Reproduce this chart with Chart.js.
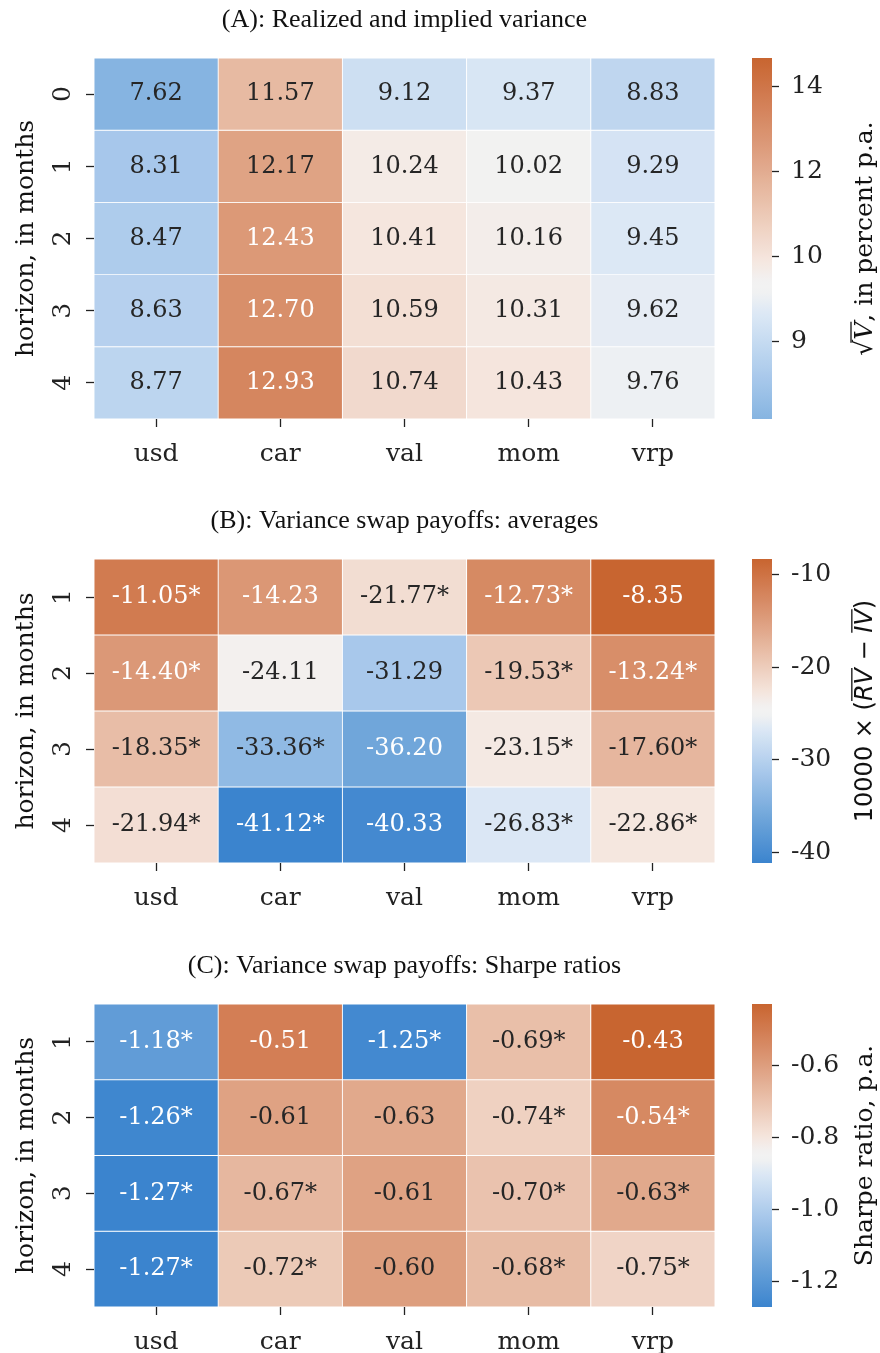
<!DOCTYPE html>
<html>
<head>
<meta charset="utf-8">
<script src="https://cdn.jsdelivr.net/npm/chart.js@4.4.0/dist/chart.umd.min.js"></script>
<style>
  body { margin: 0; background: #fff; }
  #wrap { position: relative; width: 880px; height: 1353px; }
  canvas { position: absolute; }
</style>
</head>
<body>
<div id="wrap"></div>
<script>
// ---- data ----
const columns = ['usd', 'car', 'val', 'mom', 'vrp']

const rowsA = [0, 1, 2, 3, 4]
const valuesA = [
  [7.62, 11.57, 9.12, 9.37, 8.83],
  [8.31, 12.17, 10.24, 10.02, 9.29],
  [8.47, 12.43, 10.41, 10.16, 9.45],
  [8.63, 12.70, 10.59, 10.31, 9.62],
  [8.77, 12.93, 10.74, 10.43, 9.76],
]

const rowsB = [1, 2, 3, 4]
const valuesB = [
  [-11.05, -14.23, -21.77, -12.73, -8.35],
  [-14.40, -24.11, -31.29, -19.53, -13.24],
  [-18.35, -33.36, -36.20, -23.15, -17.60],
  [-21.94, -41.12, -40.33, -26.83, -22.86],
]
const starsB = [
  [1, 0, 1, 1, 0],
  [1, 0, 0, 1, 1],
  [1, 1, 0, 1, 1],
  [1, 1, 0, 1, 1],
]

const rowsC = [1, 2, 3, 4]
const valuesC = [
  [-1.18, -0.51, -1.25, -0.69, -0.43],
  [-1.26, -0.61, -0.63, -0.74, -0.54],
  [-1.27, -0.67, -0.61, -0.70, -0.63],
  [-1.27, -0.72, -0.60, -0.68, -0.75],
]
const starsC = [
  [1, 0, 1, 1, 0],
  [1, 0, 0, 1, 1],
  [1, 1, 0, 1, 1],
  [1, 1, 0, 1, 1],
]

// colour scale limits and colourbar ticks
const colourRangeA = [5.95, 13.9]
const cbRangeA = [8.08, 14.68]
const cbTicksA = [9, 10, 12, 14]
const cbTicksB = [-40, -30, -20, -10]
const cbTicksC = [-1.2, -1.0, -0.8, -0.6]

// ---- colours ----
const palette = [
  [0.00, 59, 132, 206],
  [0.15, 112, 166, 218],
  [0.30, 168, 200, 235],
  [0.44, 220, 232, 245],
  [0.49, 242, 242, 242],
  [0.51, 242, 242, 242],
  [0.56, 245, 230, 222],
  [0.66, 236, 200, 181],
  [0.82, 219, 151, 117],
  [0.92, 209, 122, 79],
  [1.00, 200, 101, 48],
]

function cmap(t) {
  t = Math.max(0, Math.min(1, t))
  for (let k = 1; k < palette.length; k++) {
    const a = palette[k - 1], b = palette[k]
    if (t <= b[0]) {
      const f = (t - a[0]) / (b[0] - a[0] || 1)
      return [1, 2, 3].map(i => Math.round(a[i] + (b[i] - a[i]) * f))
    }
  }
  return palette[palette.length - 1].slice(1)
}
const rgb = c => `rgb(${c[0]},${c[1]},${c[2]})`

function luminance(c) {
  const lin = c.map(x => {
    x = x / 255
    return x <= 0.04045 ? x / 12.92 : Math.pow((x + 0.055) / 1.055, 2.4)
  })
  return 0.2126 * lin[0] + 0.7152 * lin[1] + 0.0722 * lin[2]
}

const flat = arr => arr.reduce((a, r) => a.concat(r), [])
const rangeOf = vals => [Math.min(...flat(vals)), Math.max(...flat(vals))]

Chart.defaults.font.family = "'DejaVu Serif', serif"
Chart.defaults.color = '#222'

const wrap = document.getElementById('wrap')
function addCanvas(left, top, w, h) {
  const cv = document.createElement('canvas')
  cv.width = w
  cv.height = h
  cv.style.left = left + 'px'
  cv.style.top = top + 'px'
  wrap.appendChild(cv)
  return cv
}

// draws a rotated (bottom-to-top) label built from pieces, baseline at x
function drawRotated(ctx, pieces, baseX, midY) {
  ctx.save()
  ctx.translate(baseX, midY)
  ctx.rotate(-Math.PI / 2)
  ctx.textBaseline = 'alphabetic'
  ctx.fillStyle = '#111'
  ctx.strokeStyle = '#111'
  let total = 0
  pieces.forEach(p => { ctx.font = p.font; p.w = ctx.measureText(p.text).width; total += p.w })
  let x = -total / 2
  pieces.forEach(p => {
    ctx.font = p.font
    ctx.fillText(p.text, x, 0)
    if (p.bar) {
      ctx.lineWidth = 1.3
      ctx.beginPath()
      ctx.moveTo(x + (p.barFrom || 0), -p.size * 0.84)
      ctx.lineTo(x + p.w, -p.size * 0.84)
      ctx.stroke()
    }
    x += p.w
  })
  ctx.restore()
}

const labelA = [
  { text: '\u221A', font: "25px 'DejaVu Serif'" },
  { text: 'V', font: "italic 25px 'DejaVu Serif'", bar: true, size: 25, barFrom: -3 },
  { text: ', in percent p.a.', font: "25px 'DejaVu Serif'" },
]
const labelB = [
  { text: '10000 \u00D7 (', font: "24px 'DejaVu Sans'" },
  { text: 'RV', font: "italic 24px 'DejaVu Sans'", bar: true, size: 24 },
  { text: ' \u2212 ', font: "24px 'DejaVu Sans'" },
  { text: 'IV', font: "italic 24px 'DejaVu Sans'", bar: true, size: 24 },
  { text: ')', font: "24px 'DejaVu Sans'" },
]
const labelC = [
  { text: 'Sharpe ratio, p.a.', font: "25px 'DejaVu Serif'" },
]

const panels = [
  {
    title: '(A): Realized and implied variance', top: 0, height: 470, xAxisHeight: 51,
    rows: rowsA, values: valuesA, stars: null, range: colourRangeA,
    cbRange: cbRangeA, cbTicks: cbTicksA, cbDigits: 0, cbShade: [0.21, 1],
    fold: v => (v <= 10 ? v : 10 + (v - 10) / 2), label: labelA,
  },
  {
    title: '(B): Variance swap payoffs: averages', top: 501, height: 412, xAxisHeight: 50,
    rows: rowsB, values: valuesB, stars: starsB, range: rangeOf(valuesB),
    cbRange: rangeOf(valuesB), cbTicks: cbTicksB, cbDigits: 0, cbShade: [0, 1],
    fold: v => v, label: labelB,
  },
  {
    title: '(C): Variance swap payoffs: Sharpe ratios', top: 946, height: 407, xAxisHeight: 46,
    rows: rowsC, values: valuesC, stars: starsC, range: rangeOf(valuesC),
    cbRange: rangeOf(valuesC), cbTicks: cbTicksC, cbDigits: 1, cbShade: [0, 1],
    fold: v => v, label: labelC,
  },
]

const tickGrid = { drawOnChartArea: false, drawTicks: true, tickLength: 8, tickWidth: 1.3, tickColor: '#222' }

function heatmap(p) {
  const cv = addCanvas(0, p.top, 730, p.height)
  const cellColour = v => cmap((v - p.range[0]) / (p.range[1] - p.range[0]))

  const datasets = p.rows.map((r, i) => ({
    data: columns.map((c, j) => ({ x: c, y: [r - 0.5, r + 0.5], v: p.values[i][j] })),
    backgroundColor: ctx => rgb(cellColour(ctx.raw.v)),
    borderColor: '#fff',
    borderWidth: 0.8,
    borderSkipped: false,
    barPercentage: 1,
    categoryPercentage: 1,
    grouped: false,
  }))

  const annotate = {
    id: 'annotate',
    afterDatasetsDraw(chart) {
      const ctx = chart.ctx
      ctx.save()
      ctx.font = "24px 'DejaVu Serif'"
      ctx.textAlign = 'center'
      ctx.textBaseline = 'middle'
      p.rows.forEach((r, i) => {
        chart.getDatasetMeta(i).data.forEach((el, j) => {
          const v = p.values[i][j]
          const c = cellColour(v)
          const pt = el.getCenterPoint()
          ctx.fillStyle = luminance(c) < 0.408 ? '#fff' : '#262626'
          const star = p.stars && p.stars[i][j] ? '*' : ''
          ctx.fillText(v.toFixed(2) + star, pt.x, pt.y)
        })
      })
      ctx.restore()
    },
  }

  new Chart(cv, {
    type: 'bar',
    data: { labels: columns, datasets },
    plugins: [annotate],
    options: {
      responsive: false,
      animation: false,
      devicePixelRatio: 1,
      layout: { padding: { left: 0, right: 15, top: 0, bottom: 0 } },
      plugins: {
        legend: { display: false },
        tooltip: { enabled: false },
        title: {
          display: true,
          text: p.title,
          fullSize: false,
          color: '#111',
          font: { family: "'Liberation Serif', serif", size: 26, weight: 'normal' },
          padding: { top: 5, bottom: 21.8 },
        },
      },
      scales: {
        x: {
          type: 'category',
          offset: true,
          grid: { ...tickGrid, offset: false },
          border: { display: false },
          ticks: { padding: 12, font: { size: 25 }, color: '#222' },
          afterFit: s => { s.height = p.xAxisHeight },
        },
        y: {
          type: 'linear',
          reverse: true,
          min: p.rows[0] - 0.5,
          max: p.rows[p.rows.length - 1] + 0.5,
          afterBuildTicks: s => { s.ticks = p.rows.map(v => ({ value: v })) },
          grid: tickGrid,
          border: { display: false },
          ticks: {
            minRotation: 90, maxRotation: 90, crossAlign: 'center', padding: 15,
            font: { size: 25 }, color: '#222', callback: v => String(v),
          },
          title: {
            display: true, text: 'horizon, in months', color: '#111',
            font: { size: 25 }, padding: { top: 11, bottom: 0 },
          },
          afterFit: s => { s.width = 94 },
        },
      },
    },
  })
}

function colourbar(p) {
  const cv = addCanvas(730, p.top, 150, p.height)

  const shade = ctx => {
    const area = ctx.chart.chartArea
    if (!area) return 'rgba(0,0,0,0)'
    const g = ctx.chart.ctx.createLinearGradient(0, area.bottom, 0, area.top)
    const n = 60
    for (let k = 0; k <= n; k++) {
      const t = p.cbShade[0] + (p.cbShade[1] - p.cbShade[0]) * k / n
      g.addColorStop(k / n, rgb(cmap(t)))
    }
    return g
  }

  const label = {
    id: 'cbLabel',
    afterDraw(chart) {
      const a = chart.chartArea
      drawRotated(chart.ctx, p.label, 142, (a.top + a.bottom) / 2)
    },
  }

  new Chart(cv, {
    type: 'bar',
    data: {
      labels: [''],
      datasets: [{
        data: [[p.fold(p.cbRange[0]), p.fold(p.cbRange[1])]],
        backgroundColor: shade,
        borderWidth: 0,
        barPercentage: 1,
        categoryPercentage: 1,
      }],
    },
    plugins: [label],
    options: {
      responsive: false,
      animation: false,
      devicePixelRatio: 1,
      layout: { padding: { left: 22, right: 0, top: 58, bottom: p.xAxisHeight } },
      plugins: { legend: { display: false }, tooltip: { enabled: false } },
      scales: {
        x: { display: false },
        y: {
          type: 'linear',
          position: 'right',
          min: p.fold(p.cbRange[0]),
          max: p.fold(p.cbRange[1]),
          afterBuildTicks: s => { s.ticks = p.cbTicks.map(v => ({ value: p.fold(v) })) },
          grid: { ...tickGrid, tickLength: 7 },
          border: { display: false },
          ticks: {
            padding: 12, font: { size: 25 }, color: '#222',
            callback: (v, i) => p.cbTicks[i].toFixed(p.cbDigits),
          },
          afterFit: s => { s.width = 108 },
        },
      },
    },
  })
}

panels.forEach(p => {
  heatmap(p)
  colourbar(p)
})
</script>
</body>
</html>
